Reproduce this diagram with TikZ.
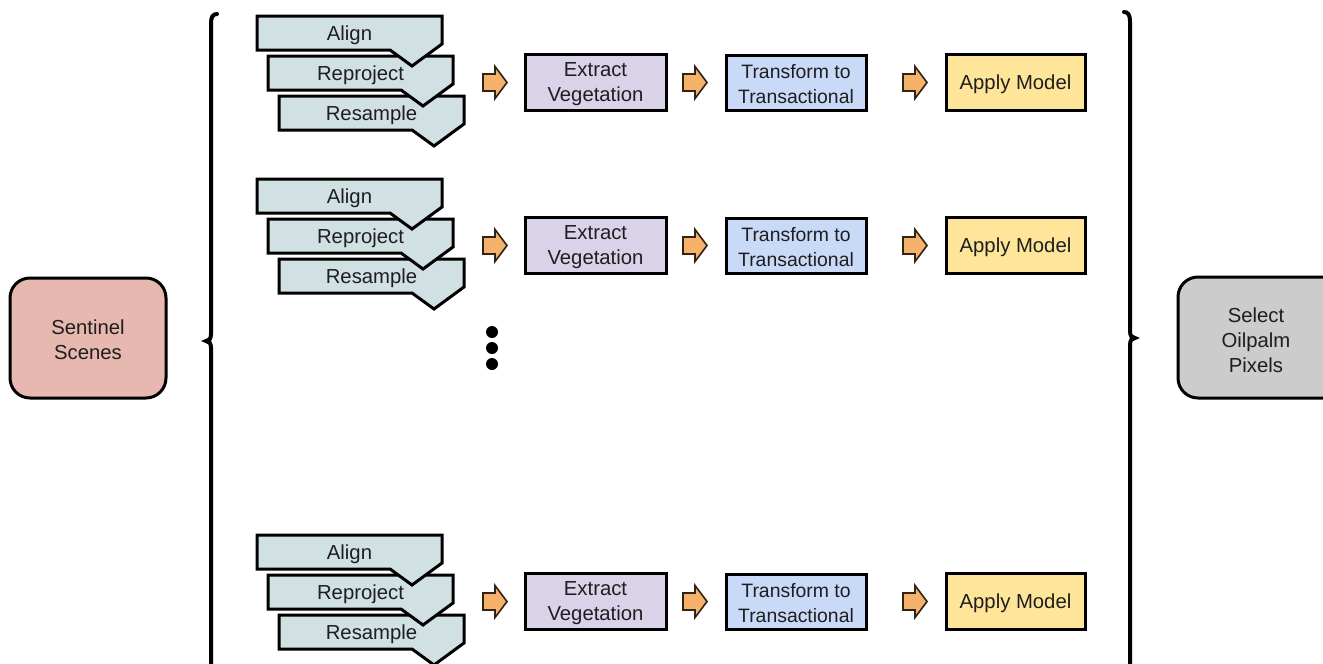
\documentclass[tikz,border=0pt]{standalone}
\usepackage{fontspec}
\setmainfont{Liberation Sans}
\usetikzlibrary{calc}
\definecolor{bannerfill}{HTML}{D0E0E3}
\definecolor{sentfill}{HTML}{E6B8AF}
\definecolor{selfill}{HTML}{CCCCCC}
\definecolor{extfill}{HTML}{D9D2E9}
\definecolor{trfill}{HTML}{C9DAF8}
\definecolor{appfill}{HTML}{FFE599}
\definecolor{arrfill}{HTML}{F6B26B}
\definecolor{txtcol}{HTML}{1E1E1E}
\tikzset{
  txt/.style={font=\fontsize{20.3}{25}\selectfont, text=txtcol, align=center, inner sep=0pt, yshift=-2pt},
  smalltxt/.style={txt, font=\fontsize{19.4}{25}\selectfont},
  bannerbox/.style={fill=bannerfill, draw=black, line width=3pt, line join=miter},
  procbox/.style={draw=black, line width=3pt, minimum width=141pt, minimum height=56pt, inner sep=0pt},
  brace/.style={draw=black, line width=4pt, line cap=round},
  orangearrow/.pic={\draw[fill=arrfill, draw=black!80!arrfill, line width=1.6pt, line join=miter]
     (-12,-8.5) -- (0,-8.5) -- (0,-16) -- (12,0) -- (0,16) -- (0,8.5) -- (-12,8.5) -- cycle;}
}
\newcommand\banner[4]{%
  \filldraw[bannerbox] (#2,#3) -- ++(185,0) -- ++(0,28) -- ++(-30,22) -- ++(-22,-16) -- ++(-133,0) -- cycle;
  \node[txt] (#1) at ($(#2,#3)+(92.5,17)$) {#4};}
\newcommand\pipeline[2]{%
  \pgfmathsetmacro\ta{16+#2}\pgfmathsetmacro\tb{56+#2}\pgfmathsetmacro\tc{96+#2}\pgfmathsetmacro\cy{82.5+#2}%
  \banner{resample#1}{279}{\tc}{Resample}
  \banner{reproject#1}{268}{\tb}{Reproject}
  \banner{align#1}{257}{\ta}{Align}
  \node[procbox, fill=extfill] (ext#1) at (595.5,\cy) {};
  \node[txt] (extt#1) at (ext#1.center) {Extract\\Vegetation};
  \node[procbox, fill=trfill, minimum width=140pt, minimum height=55pt] (tr#1) at (796,\cy) {};
  \node[smalltxt] (trt#1) at (tr#1.center) {Transform to\\Transactional};
  \node[procbox, fill=appfill, minimum width=139pt, minimum height=56pt] (app#1) at (1015.5,\cy) {};
  \node[txt] (appt#1) at (app#1.center) {Apply Model};
  \path (495,\cy) pic {orangearrow};
  \path (695,\cy) pic {orangearrow};
  \path (915,\cy) pic {orangearrow};
}
\begin{document}
\begin{tikzpicture}[x=1pt, y=-1pt]
\useasboundingbox (0,0) rectangle (1323,664);
\clip (0,0) rectangle (1323,664);
\fill[white] (0,0) rectangle (1323,664);
% end boxes
\filldraw[fill=sentfill, draw=black, line width=3pt, rounded corners=20pt] (10,278) rectangle (166,398);
\node[txt] (sentinel) at (88,338) {Sentinel\\Scenes};
\filldraw[fill=selfill, draw=black, line width=3pt, rounded corners=20pt] (1178,277) rectangle (1360,398);
\node[txt] (select) at (1256,338) {Select\\Oilpalm\\Pixels};
% braces
\draw[brace] (217,14) .. controls (213,14) and (211,17) .. (211,23) -- (211,334)
  .. controls (211,339) and (209,341) .. (206,341)
  .. controls (209,341) and (211,343) .. (211,348) -- (211,700);
\draw[brace] (1124,12) .. controls (1128,12) and (1130,15) .. (1130,21) -- (1130,331)
  .. controls (1130,336) and (1132,338) .. (1135,338)
  .. controls (1132,338) and (1130,340) .. (1130,345) -- (1130,700);
% pipelines
\pipeline{1}{0}
\pipeline{2}{163}
\pipeline{3}{519}
% dots
\foreach \yy [count=\i] in {332,348,364} \fill (492,\yy) coordinate (dot\i) circle (6pt);
\end{tikzpicture}
\end{document}
